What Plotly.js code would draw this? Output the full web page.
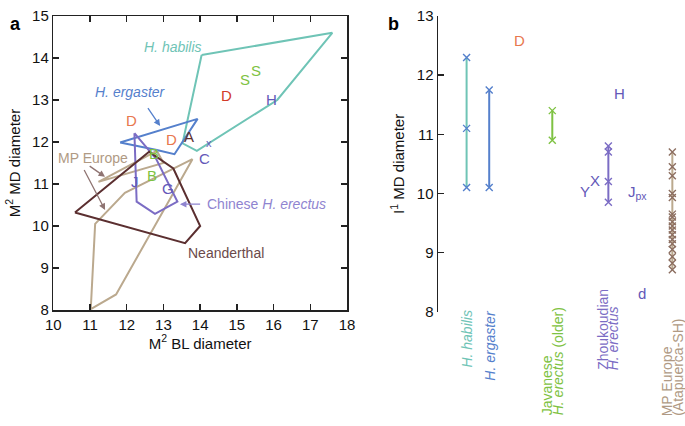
<!DOCTYPE html>
<html><head><meta charset="utf-8">
<script src="https://cdn.plot.ly/plotly-3.0.1.min.js"></script>
<style>html,body{margin:0;padding:0;background:#fff}#chart{width:685px;height:426px}</style>
</head><body><div id="chart"></div>
<script>
// ---------- Panel a: M2 BL vs MD polygons ----------
const habilisBL = [14.04, 17.6, 16.1, 13.91, 13.52, 14.04];
const habilisMD = [14.07, 14.6, 13.0, 11.79, 11.97, 14.07];
const ergasterBL = [11.82, 13.93, 13.3, 12.82, 11.82];
const ergasterMD = [11.99, 12.55, 11.71, 11.81, 11.99];
const chineseBL = [12.21, 12.27, 12.77, 13.38, 12.8, 12.21];
const chineseMD = [12.21, 10.58, 10.29, 10.58, 11.6, 12.21];
const neandBL = [10.59, 12.61, 13.27, 14.0, 13.59, 10.59];
const neandMD = [10.32, 11.77, 11.37, 10.0, 9.59, 10.32];
const mpBL = [11.02, 11.14, 11.95, 13.79, 11.71, 11.02];
const mpMD = [8.02, 10.05, 10.79, 11.59, 8.37, 8.02];
const mpWedgeBL = [11.23, 12.82, 13.0, 11.23];
const mpWedgeMD = [11.05, 11.79, 11.5, 11.05];

// specimen letters in panel a
const letA = ['D', 'D', 'A', 'x', 'C', 'D', 'S', 'S', 'H', 'J', 'G', 'B', 'B'];
const letABL = [12.14, 13.21, 13.7, 14.24, 14.13, 14.72, 15.22, 15.52, 15.95, 12.23, 13.13, 12.73, 12.68];
const letAMD = [12.52, 12.05, 12.13, 11.97, 11.6, 13.1, 13.5, 13.71, 13.02, 11.05, 10.9, 11.73, 11.21];
const letAColor = ['#e8784e', '#e8784e', '#5b2f30', '#6358b8', '#6358b8', '#d23a28', '#7ec242', '#7ec242', '#6358b8', '#6358b8', '#6358b8', '#7ec242', '#7ec242'];

// ---------- Panel b: I1 MD diameter ----------
const groups = ['H. habilis', 'H. ergaster', 'Javanese H. erectus (older)', 'Zhoukoudian H. erectus', 'MP Europe (Atapuerca-SH)'];
const groupX = [1, 2, 4.79, 7.27, 10.1];
const habilisI1 = [12.3, 11.1, 10.1];
const ergasterI1 = [11.75, 10.1];
const javaI1 = [11.4, 10.9];
const zhouI1 = [10.8, 10.7, 10.2, 9.85];
const mpI1 = [10.7, 10.45, 10.3, 10.0, 9.93, 9.65, 9.6, 9.52, 9.45, 9.38, 9.3, 9.22, 9.15, 9.05, 8.93, 8.82, 8.71];
const letB = ['D', 'H', 'Y', 'X', 'J<sub>px</sub>', 'd'];
const letBX = [3.36, 7.76, 6.24, 6.68, 8.05, 8.75];
const letBY = [12.59, 11.69, 10.04, 10.22, 10.02, 8.30];
const letBColor = ['#e8784e', '#6358b8', '#6358b8', '#6358b8', '#6358b8', '#6358b8'];

const FONT = 'Liberation Sans, Arial, Helvetica, sans-serif';
const C = {teal:'#6fc4b6', blue:'#5580cc', purple:'#7b6cc4', neand:'#5b2f30', tan:'#bba98e', green:'#7ec242', mpx:'#8c6e60', arrow:'#8f7472'};

function poly(x, y, color, w) {
  return {x:x, y:y, mode:'lines', type:'scatter', xaxis:'x', yaxis:'y',
    line:{color:color, width:w || 2}, hoverinfo:'skip', showlegend:false};
}
function column(i, vals, lineColor, markColor) {
  return {x: vals.map(() => groupX[i]), y: vals, mode:'lines+markers', type:'scatter',
    xaxis:'x2', yaxis:'y2', line:{color:lineColor, width:2},
    marker:{symbol:'x-thin-open', size:7, color:markColor, line:{color:markColor, width:1.4}},
    hoverinfo:'skip', showlegend:false};
}

const traces = [
  poly(mpBL, mpMD, C.tan),
  poly(mpWedgeBL, mpWedgeMD, C.tan),
  poly(habilisBL, habilisMD, C.teal),
  poly(ergasterBL, ergasterMD, C.blue),
  poly(chineseBL, chineseMD, C.purple),
  poly(neandBL, neandMD, C.neand),
  column(0, habilisI1, C.teal, C.blue),
  column(1, ergasterI1, C.blue, C.blue),
  column(2, javaI1, C.green, C.green),
  column(3, zhouI1, C.purple, C.purple),
  column(4, mpI1, C.tan, C.mpx)
];

const ann = [];
// letters panel a
letA.forEach((t, i) => ann.push({x:letABL[i], y:letAMD[i], xref:'x', yref:'y', text:t, showarrow:false,
  font:{family:FONT, size: t === 'x' ? 11 : 15, color:letAColor[i]}}));
// group labels panel a
ann.push({x:13.27, y:14.27, xref:'x', yref:'y', text:'<i>H. habilis</i>', showarrow:false, font:{family:FONT, size:14, color:C.teal}});
ann.push({x:12.09, y:13.2, xref:'x', yref:'y', text:'<i>H. ergaster</i>', showarrow:false, font:{family:FONT, size:14, color:C.blue}});
ann.push({x:11.09, y:11.61, xref:'x', yref:'y', text:'MP Europe', showarrow:false, font:{family:FONT, size:14, color:'#b09a84'}});
ann.push({x:14.13, y:10.52, xref:'x', yref:'y', xanchor:'left', text:'Chinese <i>H. erectus</i>', showarrow:false, font:{family:FONT, size:14, color:'#8f84d0'}});
ann.push({x:13.62, y:9.36, xref:'x', yref:'y', xanchor:'left', text:'Neanderthal', showarrow:false, font:{family:FONT, size:14, color:'#6b4a4a'}});
// arrows panel a
function arrow(x0, y0, x1, y1, color) {
  ann.push({x:x1, y:y1, ax:x0, ay:y0, xref:'x', yref:'y', axref:'x', ayref:'y', text:'', showarrow:true,
    arrowhead:2, arrowsize:1, arrowwidth:1.3, arrowcolor:color});
}
arrow(12.55, 12.84, 12.91, 12.38, C.blue);
arrow(14.04, 10.52, 13.45, 10.52, '#8f84d0');
arrow(10.95, 11.45, 11.41, 11.17, C.arrow);
arrow(10.82, 11.37, 11.41, 10.38, C.arrow);
// letters panel b
letB.forEach((t, i) => ann.push({x:letBX[i], y:letBY[i], xref:'x2', yref:'y2', text:t, showarrow:false,
  xanchor: i === 4 ? 'left' : 'center', font:{family:FONT, size:15, color:letBColor[i]}}));
// category labels panel b (rotated)
const catLines = [
  {g:0, t:'<i>H. habilis</i>', dx:0, bottom:370, color:C.teal},
  {g:1, t:'<i>H. ergaster</i>', dx:0, bottom:383, color:C.blue},
  {g:2, t:'Javanese', dx:-5, bottom:417, color:C.green},
  {g:2, t:'<i>H. erectus</i> (older)', dx:6, bottom:417, color:C.green},
  {g:3, t:'Zhoukoudian', dx:-6, bottom:372, color:C.purple},
  {g:3, t:'<i>H. erectus</i>', dx:5, bottom:372, color:C.purple},
  {g:4, t:'MP Europe', dx:-5, bottom:418, color:'#b09a84'},
  {g:4, t:'(Atapuerca-SH)', dx:5, bottom:418, color:'#b09a84'}
];
catLines.forEach(c => ann.push({x:groupX[c.g], y:(426 - c.bottom) / 426, xref:'x2', yref:'paper', xshift:c.dx,
  yanchor:'bottom', xanchor:'center', textangle:-90, text:c.t, showarrow:false,
  font:{family:FONT, size:14, color:c.color}}));
// panel letters
ann.push({x:8/685, y:1-12/426, xref:'paper', yref:'paper', text:'<b>a</b>', showarrow:false, font:{family:FONT, size:18, color:'#000'}});
ann.push({x:393/685, y:1-12/426, xref:'paper', yref:'paper', text:'<b>b</b>', showarrow:false, font:{family:FONT, size:18, color:'#000'}});

const axA = {showline:true, linecolor:'#222', linewidth:1.5, mirror:'ticks', ticks:'inside', ticklen:6, tickwidth:1.5,
  tickcolor:'#222', showgrid:false, zeroline:false, tickfont:{family:FONT, size:15, color:'#111'}, dtick:1, fixedrange:true};
const layout = {
  width:685, height:426, margin:{l:0, r:0, t:0, b:0}, paper_bgcolor:'#fff', plot_bgcolor:'rgba(0,0,0,0)',
  showlegend:false, font:{family:FONT},
  xaxis: Object.assign({}, axA, {domain:[53.3/685, 347/685], range:[10, 18], anchor:'y',
    title:{text:'M<sup>2</sup> BL diameter', font:{family:FONT, size:15, color:'#111'}, standoff:6}}),
  yaxis: Object.assign({}, axA, {domain:[(426-310)/426, (426-16)/426], range:[8, 15], anchor:'x',
    title:{text:'M<sup>2</sup> MD diameter', font:{family:FONT, size:15, color:'#111'}, standoff:8}}),
  xaxis2: {domain:[438/685, 1], range:[-0.265, 10.66], anchor:'y2', visible:false, fixedrange:true},
  yaxis2: {domain:[(426-311.7)/426, (426-16)/426], range:[8, 13], anchor:'x2', showline:true, linecolor:'#222', linewidth:1.5,
    ticks:'inside', ticklen:6, tickwidth:1.5, tickcolor:'#222', showgrid:false, zeroline:false, dtick:1,
    tickfont:{family:FONT, size:15, color:'#111'}, fixedrange:true,
    title:{text:'I<sup>1</sup> MD diameter', font:{family:FONT, size:15, color:'#111'}, standoff:8}},
  annotations: ann
};
Plotly.newPlot('chart', traces, layout, {staticPlot:true, displayModeBar:false});
</script>
</body></html>
